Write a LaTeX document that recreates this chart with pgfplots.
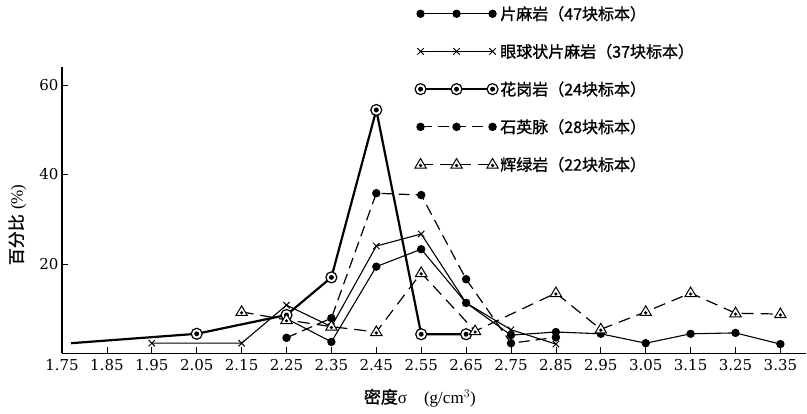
\documentclass[border=0pt]{standalone}
\usepackage{fontspec}
\setmainfont{Liberation Serif}
\newfontfamily\numfont{DejaVu Serif}
\newfontfamily\cjk{Noto Sans CJK SC}[FakeBold=1.2]
\usepackage{pgfplots}
\pgfplotsset{compat=1.18}

\pgfdeclareplotmark{odot}{%
  \pgfpathcircle{\pgfpointorigin}{\pgfplotmarksize}%
  \pgfsetfillcolor{white}\pgfusepathqfillstroke
  \pgfpathcircle{\pgfpointorigin}{0.45\pgfplotmarksize}%
  \pgfsetfillcolor{black}\pgfusepathqfill}
\pgfdeclareplotmark{tridot}{%
  \pgfpathmoveto{\pgfqpoint{0pt}{\pgfplotmarksize}}%
  \pgfpathlineto{\pgfqpoint{-0.95\pgfplotmarksize}{-0.6\pgfplotmarksize}}%
  \pgfpathlineto{\pgfqpoint{0.95\pgfplotmarksize}{-0.6\pgfplotmarksize}}%
  \pgfpathclose
  \pgfsetfillcolor{white}\pgfusepathqfillstroke
  \pgfpathcircle{\pgfqpoint{0pt}{-0.15\pgfplotmarksize}}{0.3\pgfplotmarksize}%
  \pgfsetfillcolor{black}\pgfusepathqfill}

\begin{document}
\begin{tikzpicture}[x=1pt,y=1pt]
\useasboundingbox (0,0) rectangle (807,414);
\begin{axis}[
  at={(62pt,60.5pt)}, anchor=south west,
  scale only axis, width=744pt, height=286.5pt,
  xmin=1.75, xmax=3.407, ymin=0, ymax=64,
  axis lines=left,
  axis line style={line width=1.3pt,-},
  xtick={1.75,1.85,1.95,2.05,2.15,2.25,2.35,2.45,2.55,2.65,2.75,2.85,2.95,3.05,3.15,3.25,3.35},
  xticklabels={1.75,1.85,1.95,2.05,2.15,2.25,2.35,2.45,2.55,2.65,2.75,2.85,2.95,3.05,3.15,3.25,3.35},
  ytick={20,40,60},
  tick align=inside,
  major tick length=6pt,
  tick style={black,line width=0.8pt},
  ticklabel style={font=\numfont\fontsize{15}{15}\selectfont},
  xticklabel style={yshift=-2pt},
  /pgf/number format/assume math mode=true,
  xlabel={{\cjk 密度}σ\quad(g/cm$^{3}$)},
  xlabel style={at={(axis description cs:0.481,-0.155)},anchor=center,font=\fontsize{17}{17}\selectfont},
  ylabel={{\cjk 百分比}\ (\%)},
  ylabel style={at={(axis description cs:-0.06,0.449)},anchor=center,font=\fontsize{17}{17}\selectfont},
  legend style={at={(axis description cs:0.474,1.22)},anchor=north west,draw=none,fill=none,
    font=\cjk\fontsize{16}{16}\selectfont,row sep=18.5pt,inner sep=0pt},
  legend cell align=left,
  legend image code/.code={\draw[#1] plot coordinates {(0pt,0pt) (36pt,0pt) (72pt,0pt)};},
  clip=false,
]
% 片麻岩
\addplot[black,line width=1.1pt,mark=*,mark size=3.6pt,mark options={solid}] coordinates {
 (2.25,7.8) (2.35,2.6) (2.45,19.4) (2.55,23.3) (2.65,11.3) (2.75,4.1) (2.85,4.8)
 (2.95,4.4) (3.05,2.3) (3.15,4.4) (3.25,4.6) (3.35,2.1)};
\addlegendentry{片麻岩（47块标本）}
% 眼球状片麻岩
\addplot[black,line width=1.1pt,mark=x,mark size=4.5pt,mark options={solid,line width=1pt}] coordinates {
 (1.95,2.3) (2.15,2.3) (2.25,10.8) (2.35,6.0) (2.45,24.0) (2.55,26.7) (2.65,11.3) (2.75,5.3) (2.85,2.1)};
\addlegendentry{眼球状片麻岩（37块标本）}
% 花岗岩
\addplot[black,line width=2.2pt,forget plot] coordinates {(1.77,2.3) (2.05,4.4)};
\addplot[black,line width=2.2pt,mark=odot,mark size=5.5pt,mark options={solid,line width=1.2pt}] coordinates {
 (2.05,4.4) (2.25,8.6) (2.35,17.0) (2.45,54.4) (2.55,4.3) (2.65,4.3)};
\addlegendentry{花岗岩（24块标本）}
% 石英脉
\addplot[black,line width=1.2pt,dash pattern=on 11pt off 6pt,mark=*,mark size=3.6pt,mark options={solid}] coordinates {
 (2.25,3.5) (2.35,7.9) (2.45,35.8) (2.55,35.4) (2.65,16.6) (2.75,2.3) (2.85,3.6)};
\addlegendentry{石英脉（28块标本）}
% 辉绿岩
\addplot[black,line width=1.2pt,dash pattern=on 12pt off 7pt,mark=tridot,mark size=6pt,mark options={solid,line width=1pt}] coordinates {
 (2.15,9.3) (2.25,7.5) (2.35,6.0) (2.45,4.8) (2.55,18.0) (2.67,5.0) (2.85,13.5)
 (2.95,5.4) (3.05,9.3) (3.15,13.5) (3.25,9.0) (3.35,8.8)};
\addlegendentry{辉绿岩（22块标本）}
\end{axis}
\end{tikzpicture}
\end{document}
